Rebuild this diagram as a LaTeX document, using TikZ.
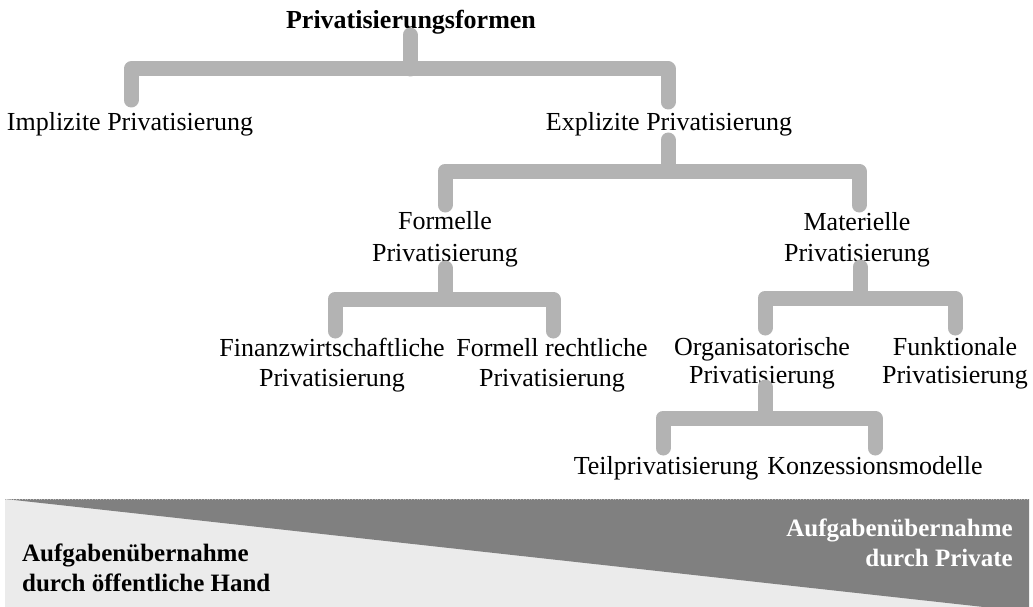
\documentclass[tikz,border=0pt]{standalone}
\usepackage{fontspec}
\setmainfont{Liberation Serif}
\begin{document}
\begin{tikzpicture}[x=1pt,y=-1pt,
  lbl/.style={inner sep=0pt, align=center, anchor=base, font=\fontsize{26}{30}\selectfont},
  title/.style={lbl, font=\fontsize{26}{31}\selectfont\bfseries},
  bracket/.style={draw=bargray, line width=15pt, line cap=round, line join=round},
  bandtext/.style={inner sep=0pt, font=\fontsize{25}{30.5}\selectfont\bfseries}]
\definecolor{bargray}{RGB}{179,179,179}
\definecolor{bandlight}{RGB}{235,235,235}
\definecolor{banddark}{RGB}{128,128,128}
\useasboundingbox (0,0) rectangle (1033,607);

% labels of the tree (anchored at the baseline of their last line)
\node[title] (root) at (411,29) {Privatisierungsformen};
\node[lbl] (impl) at (130,131) {Implizite Privatisierung};
\node[lbl] (expl) at (669,131) {Explizite Privatisierung};
\node[lbl, font=\fontsize{26}{32}\selectfont] (form) at (445,261) {Formelle\\Privatisierung};
\node[lbl, font=\fontsize{26}{31}\selectfont] (mat)  at (857,261) {Materielle\\Privatisierung};
\node[lbl] (fin)  at (332,386) {Finanzwirtschaftliche\\Privatisierung};
\node[lbl] (frech) at (552,386) {Formell rechtliche\\Privatisierung};
\node[lbl, font=\fontsize{26}{28}\selectfont] (org)  at (762,383) {Organisatorische\\Privatisierung};
\node[lbl, font=\fontsize{26}{28}\selectfont] (funk) at (955,383) {Funktionale\\Privatisierung};
\node[lbl] (teil) at (666,474) {Teilprivatisierung};
\node[lbl] (konz) at (875,474) {Konzessionsmodelle};

% end points of the brackets
\coordinate (root-b) at (410,35);  \coordinate (root-m) at (410,69);
\coordinate (impl-t) at (131,100); \coordinate (expl-t) at (668,102);
\coordinate (expl-b) at (668,140); \coordinate (expl-m) at (668,171);
\coordinate (form-t) at (445,205); \coordinate (mat-t) at (859,205);
\coordinate (form-b) at (445,268); \coordinate (form-m) at (445,299);
\coordinate (fin-t) at (335,331);  \coordinate (frech-t) at (553,331);
\coordinate (mat-b) at (860,267);  \coordinate (mat-m) at (860,298);
\coordinate (org-t) at (765,328);  \coordinate (funk-t) at (955,328);
\coordinate (org-b) at (765,387);  \coordinate (org-m) at (765,418);
\coordinate (teil-t) at (663,448); \coordinate (konz-t) at (875,448);

% brackets
\draw[bracket] (impl-t) |- (root-m) -| (expl-t);
\draw[bracket] (root-b) -- (root-m);
\draw[bracket] (form-t) |- (expl-m) -| (mat-t);
\draw[bracket] (expl-b) -- (expl-m);
\draw[bracket] (fin-t) |- (form-m) -| (frech-t);
\draw[bracket] (form-b) -- (form-m);
\draw[bracket] (org-t) |- (mat-m) -| (funk-t);
\draw[bracket] (mat-b) -- (mat-m);
\draw[bracket] (teil-t) |- (org-m) -| (konz-t);
\draw[bracket] (org-b) -- (org-m);

% band: public versus private share of the task
\coordinate (band-tl) at (5,499);
\coordinate (band-tr) at (1029,499);
\coordinate (band-br) at (1029,607);
\fill[bandlight] (band-tl) rectangle (band-br);
\begin{scope}
  \clip (band-tl) rectangle (band-br);
  \fill[banddark] (band-tl) -- (band-tr) -- (1029,612) -- cycle;
\end{scope}
\draw[dotted, gray!55, line width=0.8pt] (band-tl) -- (band-tr);

\node[bandtext, anchor=west, align=left] (pub) at (22,568)
  {Aufgabenübernahme\\durch öffentliche Hand};
\node[bandtext, anchor=east, align=right, text=white] (priv) at (1013,543)
  {Aufgabenübernahme\\durch Private};
\end{tikzpicture}
\end{document}
